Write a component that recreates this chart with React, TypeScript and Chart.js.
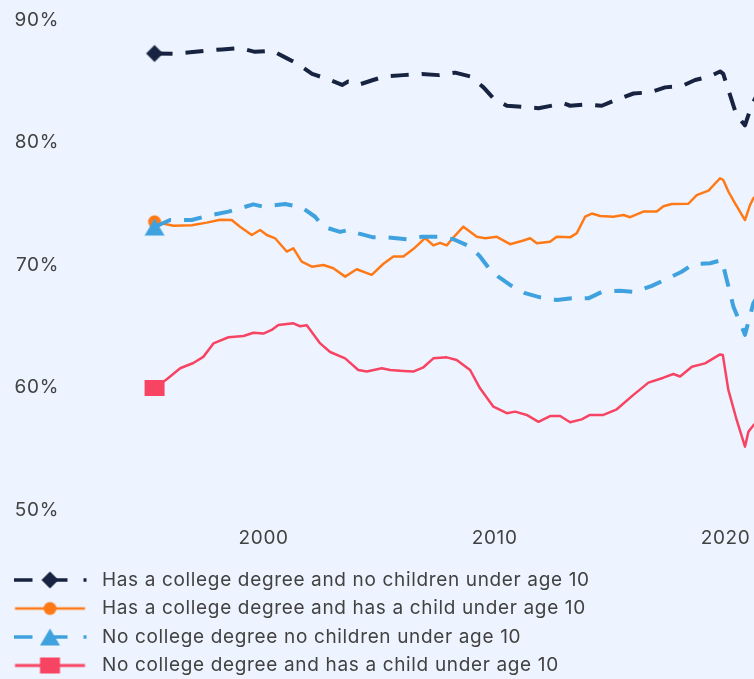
import React, { useEffect, useRef } from 'react';
import { Chart, registerables } from 'chart.js';

Chart.register(...registerables);

const seriesLabels = [
  'Has a college degree and no children under age 10',
  'Has a college degree and has a child under age 10',
  'No college degree no children under age 10',
  'No college degree and has a child under age 10',
];

const navyYears = [1995.28, 1996.08, 1996.82, 1997.55, 1998.2, 1998.98, 1999.63, 2000.37, 2000.93, 2001.49, 2002.1, 2002.75, 2003.4, 2003.66, 2004.09, 2004.74, 2005.26, 2006.05, 2006.85, 2007.57, 2008.29, 2008.94, 2009.52, 2009.95, 2010.53, 2011.25, 2011.9, 2012.62, 2012.98, 2013.27, 2013.99, 2014.64, 2015.29, 2016.01, 2016.73, 2017.38, 2018.1, 2018.68, 2019.33, 2019.76, 2019.9, 2020.12, 2020.48, 2020.84, 2021.13, 2021.4];
const navyValues = [87.27, 87.24, 87.36, 87.5, 87.6, 87.7, 87.4, 87.5, 86.95, 86.4, 85.6, 85.2, 84.7, 84.97, 84.7, 85.1, 85.4, 85.5, 85.6, 85.5, 85.7, 85.4, 84.5, 83.6, 83.0, 82.9, 82.8, 83.06, 83.2, 83.0, 83.1, 83.0, 83.5, 84.0, 84.1, 84.5, 84.6, 85.1, 85.4, 85.8, 85.6, 84.3, 82.2, 81.4, 83.06, 84.0];

const orangeYears = [1995.28, 1996.1, 1996.89, 1997.54, 1998.12, 1998.62, 1998.98, 1999.49, 1999.85, 2000.14, 2000.5, 2001.0, 2001.29, 2001.65, 2002.09, 2002.59, 2003.02, 2003.53, 2004.03, 2004.68, 2005.19, 2005.62, 2006.05, 2006.48, 2006.99, 2007.35, 2007.64, 2007.93, 2008.22, 2008.65, 2009.23, 2009.59, 2010.1, 2010.67, 2011.25, 2011.54, 2011.83, 2012.4, 2012.69, 2013.27, 2013.56, 2013.92, 2014.21, 2014.57, 2015.14, 2015.58, 2015.87, 2016.44, 2017.02, 2017.31, 2017.67, 2018.39, 2018.75, 2019.26, 2019.76, 2019.9, 2020.12, 2020.41, 2020.84, 2021.06, 2021.2, 2021.4];
const orangeValues = [73.53, 73.2, 73.24, 73.46, 73.7, 73.67, 73.13, 72.45, 72.86, 72.45, 72.18, 71.1, 71.36, 70.27, 69.86, 70.0, 69.73, 69.05, 69.65, 69.2, 70.1, 70.7, 70.7, 71.3, 72.2, 71.6, 71.8, 71.6, 72.26, 73.13, 72.3, 72.18, 72.3, 71.7, 72.0, 72.18, 71.77, 71.9, 72.3, 72.26, 72.6, 73.94, 74.2, 74.0, 73.94, 74.08, 73.9, 74.36, 74.36, 74.8, 74.98, 75.0, 75.7, 76.07, 77.08, 76.94, 76.0, 75.03, 73.67, 74.9, 75.44, 75.8];

const blueYears = [1995.28, 1995.95, 1996.89, 1997.54, 1998.48, 1999.56, 1999.99, 2000.93, 2001.65, 2002.23, 2002.59, 2003.31, 2003.67, 2004.1, 2004.75, 2005.33, 2006.2, 2006.85, 2007.57, 2008.22, 2008.94, 2009.37, 2009.81, 2010.16, 2010.67, 2011.32, 2011.97, 2012.69, 2013.34, 2014.06, 2014.64, 2015.43, 2016.08, 2016.81, 2017.38, 2018.1, 2018.61, 2019.33, 2019.84, 2020.05, 2020.34, 2020.7, 2020.84, 2021.2, 2021.4];
const blueValues = [73.1, 73.67, 73.67, 74.0, 74.36, 74.95, 74.76, 74.98, 74.7, 73.94, 73.13, 72.7, 72.86, 72.58, 72.26, 72.26, 72.1, 72.3, 72.3, 72.1, 71.5, 70.7, 69.6, 69.05, 68.37, 67.7, 67.36, 67.14, 67.28, 67.28, 67.8, 67.9, 67.8, 68.3, 68.8, 69.45, 70.08, 70.14, 70.4, 68.8, 66.6, 64.96, 64.3, 66.87, 67.5];

const pinkYears = [1995.28, 1995.81, 1996.39, 1996.96, 1997.39, 1997.83, 1998.48, 1999.13, 1999.56, 1999.99, 2000.35, 2000.64, 2001.29, 2001.58, 2001.87, 2002.45, 2002.88, 2003.53, 2004.1, 2004.47, 2005.12, 2005.48, 2006.05, 2006.48, 2006.92, 2007.35, 2007.93, 2008.36, 2008.94, 2009.37, 2009.95, 2010.53, 2010.89, 2011.39, 2011.9, 2012.4, 2012.84, 2013.27, 2013.77, 2014.13, 2014.71, 2015.29, 2016.01, 2016.66, 2017.31, 2017.74, 2018.03, 2018.54, 2019.11, 2019.76, 2019.88, 2020.12, 2020.48, 2020.84, 2020.99, 2021.2, 2021.4];
const pinkValues = [59.96, 60.67, 61.57, 62.0, 62.5, 63.6, 64.1, 64.2, 64.47, 64.4, 64.7, 65.1, 65.24, 65.0, 65.08, 63.6, 62.9, 62.38, 61.43, 61.3, 61.57, 61.43, 61.35, 61.3, 61.65, 62.38, 62.46, 62.24, 61.43, 59.93, 58.43, 57.9, 58.03, 57.76, 57.2, 57.67, 57.67, 57.16, 57.4, 57.76, 57.76, 58.22, 59.4, 60.4, 60.8, 61.1, 60.9, 61.7, 61.97, 62.7, 62.65, 59.8, 57.35, 55.17, 56.4, 56.9, 57.3];

const xTickValues = [2000, 2010, 2020];
const yTickValues = [50, 60, 70, 80, 90];

const NAVY = '#172340';
const ORANGE = '#FF7A17';
const BLUE = '#3FA2DE';
const PINK = '#F74463';
const BG = '#EEF4FF';
const TEXT = '#424242';
const FONT = { family: 'Inter', size: 19 };
const SPACING = '0.65px';

type Shape = 'diamond' | 'circle' | 'triangle' | 'rect';

function drawShape(ctx: CanvasRenderingContext2D, shape: Shape, cx: number, cy: number, color: string) {
  ctx.fillStyle = color;
  ctx.beginPath();
  if (shape === 'diamond') {
    ctx.moveTo(cx, cy - 8.5);
    ctx.lineTo(cx + 8.5, cy);
    ctx.lineTo(cx, cy + 8.5);
    ctx.lineTo(cx - 8.5, cy);
    ctx.closePath();
  } else if (shape === 'circle') {
    ctx.arc(cx, cy, 6.5, 0, Math.PI * 2);
  } else if (shape === 'triangle') {
    ctx.moveTo(cx, cy - 8.5);
    ctx.lineTo(cx + 10, cy + 8.5);
    ctx.lineTo(cx - 10, cy + 8.5);
    ctx.closePath();
  } else {
    ctx.rect(cx - 10, cy - 8, 20, 16);
  }
  ctx.fill();
}

function markerImage(shape: Shape, color: string) {
  const c = document.createElement('canvas');
  c.width = 22;
  c.height = 20;
  const ctx = c.getContext('2d')!;
  drawShape(ctx, shape, 11, 10, color);
  return c;
}

function legendIcon(shape: Shape, color: string, dashed: boolean, lw: number) {
  const c = document.createElement('canvas');
  c.width = 79;
  c.height = 24;
  const ctx = c.getContext('2d')!;
  ctx.strokeStyle = color;
  ctx.lineWidth = lw;
  ctx.lineCap = 'butt';
  ctx.beginPath();
  if (dashed) {
    ctx.setLineDash([19, 16]);
    ctx.moveTo(0, 12);
    ctx.lineTo(73, 12);
  } else {
    ctx.moveTo(1.5, 12);
    ctx.lineTo(71.5, 12);
  }
  ctx.stroke();
  ctx.setLineDash([]);
  drawShape(ctx, shape, 36.5, 12, color);
  return c;
}

export default function App() {
  const canvasRef = useRef<HTMLCanvasElement | null>(null);

  useEffect(() => {
    document.body.style.margin = '0';
    document.body.style.background = BG;
    const canvas = canvasRef.current;
    if (!canvas) return;

    const shapes: Shape[] = ['diamond', 'circle', 'triangle', 'rect'];
    const colors = [NAVY, ORANGE, BLUE, PINK];
    const dashedFlags = [true, false, true, false];
    const legendWidths = [3.5, 2.5, 3.5, 3];
    const icons = shapes.map((s, i) => legendIcon(s, colors[i], dashedFlags[i], legendWidths[i]));
    const markers = shapes.map((s, i) => markerImage(s, colors[i]));

    const yearsList = [navyYears, orangeYears, blueYears, pinkYears];
    const valuesList = [navyValues, orangeValues, blueValues, pinkValues];
    const lineWidths = [4, 2.5, 4, 2.5];
    const orders = [0, 1, 0, 0];

    const datasets = seriesLabels.map((label, i) => ({
      label,
      data: yearsList[i].map((x, j) => ({ x, y: valuesList[i][j] })),
      borderColor: colors[i],
      backgroundColor: colors[i],
      borderWidth: lineWidths[i],
      borderDash: dashedFlags[i] ? [18, 13] : [],
      borderCapStyle: 'butt' as const,
      borderJoinStyle: 'round' as const,
      tension: 0,
      fill: false,
      order: orders[i],
      pointStyle: markers[i],
      pointRadius: (ctx: any) => (ctx.dataIndex === 0 ? 10 : 0),
      pointBorderWidth: 0,
      pointHoverRadius: 0,
    }));

    const bgPlugin = {
      id: 'bgAndSpacing',
      beforeLayout(chart: any) {
        chart.ctx.letterSpacing = SPACING;
      },
      beforeDraw(chart: any) {
        const ctx = chart.ctx;
        ctx.save();
        ctx.fillStyle = BG;
        ctx.fillRect(0, 0, chart.width, chart.height);
        ctx.restore();
        ctx.letterSpacing = SPACING;
      },
    };

    const chart = new Chart(canvas, {
      type: 'line',
      data: { datasets: datasets as any },
      options: {
        animation: false,
        responsive: false,
        events: [],
        layout: { autoPadding: false, padding: { left: 4, right: 0, top: 20, bottom: -6 } },
        scales: {
          x: {
            type: 'linear',
            min: 1991.62,
            max: 2021.23,
            grid: { display: false, drawTicks: false },
            border: { display: false },
            afterBuildTicks: (s: any) => {
              s.ticks = xTickValues.map((v) => ({ value: v }));
            },
            afterFit: (s: any) => {
              s.height = 51;
              s.paddingLeft = 0;
              s.paddingRight = 0;
            },
            ticks: {
              padding: 16.6,
              color: TEXT,
              font: FONT,
              maxRotation: 0,
              autoSkip: false,
              callback: (v: any) => String(v),
            },
          },
          y: {
            type: 'linear',
            min: 50,
            max: 90,
            grid: { display: false, drawTicks: false },
            border: { display: false },
            afterBuildTicks: (s: any) => {
              s.ticks = yTickValues.map((v) => ({ value: v }));
            },
            afterFit: (s: any) => {
              s.width = 66;
              s.paddingTop = 0;
              s.paddingBottom = 0;
            },
            ticks: {
              padding: 11,
              color: TEXT,
              font: FONT,
              callback: (v: any) => v + '%',
            },
          },
        },
        plugins: {
          legend: {
            position: 'bottom',
            align: 'start',
            labels: {
              usePointStyle: true,
              pointStyleWidth: 79,
              padding: 9.5,
              color: TEXT,
              font: FONT,
              generateLabels: () =>
                seriesLabels.map((text, i) => ({
                  text,
                  pointStyle: icons[i],
                  datasetIndex: i,
                  hidden: false,
                  fontColor: TEXT,
                  lineWidth: 0,
                  strokeStyle: 'rgba(0,0,0,0)',
                  fillStyle: 'rgba(0,0,0,0)',
                })) as any,
            },
          },
          tooltip: { enabled: false },
        },
      } as any,
      plugins: [bgPlugin],
    });

    return () => {
      chart.destroy();
    };
  }, []);

  return (
    <div style={{ width: 754, height: 679, background: BG }}>
      <canvas ref={canvasRef} width={754} height={679} style={{ display: 'block' }} />
    </div>
  );
}
